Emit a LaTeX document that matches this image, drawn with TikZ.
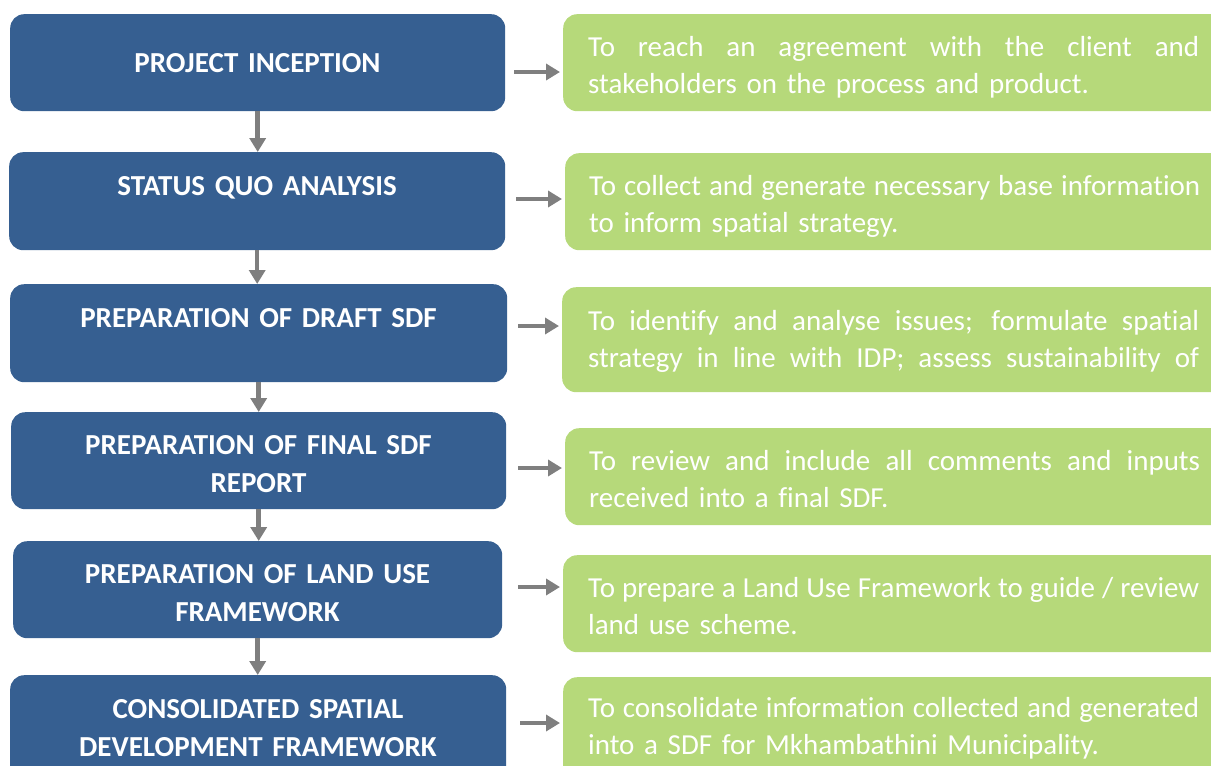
\documentclass[tikz,border=0pt]{standalone}
\usepackage{fontspec}
\setmainfont{Carlito}[Ligatures=NoCommon]
\usetikzlibrary{arrows.meta}
\definecolor{stageblue}{RGB}{54,95,145}
\definecolor{aimgreen}{RGB}{182,217,122}
\definecolor{linkgrey}{RGB}{127,127,127}
\newcommand{\fullline}[1]{\makebox[611pt][s]{\spaceskip=0.2em plus 1fil minus 0.1em\relax #1}}

\begin{document}
\begin{tikzpicture}[x=1pt,y=-1pt,
    stage/.style={fill=stageblue,rounded corners=14pt,anchor=north west,inner sep=0pt},
    aim/.style={fill=aimgreen,rounded corners=14pt,anchor=north west,inner sep=0pt,minimum width=700pt},
    stagetext/.style={text=white,font=\fontsize{29}{38}\selectfont\bfseries,align=center,text width=480pt,anchor=base,inner sep=0pt},
    aimtext/.style={text=white,font=\fontsize{29}{37.5}\selectfont,align=left,text width=611pt,anchor=base west,inner sep=0pt},
    link/.style={draw=linkgrey,line width=4.5pt,-{Triangle[length=14pt,width=16pt]}}]
    \useasboundingbox (0,0) rectangle (1211,766);
    \clip (0,0) rectangle (1211,766);
    % stages
    \node[stage,minimum width=495pt,minimum height=97pt] (s1) at (10,14) {};
    \node[stage,minimum width=496pt,minimum height=98pt] (s2) at (9,152) {};
    \node[stage,minimum width=497pt,minimum height=98pt] (s3) at (10,284) {};
    \node[stage,minimum width=495pt,minimum height=97pt] (s4) at (11,412) {};
    \node[stage,minimum width=489pt,minimum height=97pt] (s5) at (13,541) {};
    \node[stage,minimum width=496pt,minimum height=110pt] (s6) at (10,675) {};
    \node[stagetext] (t1) at (257.5,72) {PROJECT INCEPTION};
    \node[stagetext] (t2) at (257,195) {STATUS QUO ANALYSIS};
    \node[stagetext] (t3) at (258.5,327) {PREPARATION OF DRAFT SDF};
    \node[stagetext] (t4) at (258.5,454) {PREPARATION OF FINAL SDF\\REPORT};
    \node[stagetext] (t5) at (257.5,583) {PREPARATION OF LAND USE\\FRAMEWORK};
    \node[stagetext] (t6) at (258,718) {CONSOLIDATED SPATIAL\\DEVELOPMENT FRAMEWORK};
    % aims
    \node[aim,minimum height=97pt] (g1) at (563,14) {};
    \node[aim,minimum height=97pt] (g2) at (565,153) {};
    \node[aim,minimum height=105pt] (g3) at (562,287) {};
    \node[aim,minimum height=97pt] (g4) at (565,428) {};
    \node[aim,minimum height=97pt] (g5) at (563,555) {};
    \node[aim,minimum height=110pt] (g6) at (563,677) {};
    \node[aimtext] (d1) at (588,56) {\fullline{To reach an agreement with the client and}\\stakeholders on the process and product.};
    \node[aimtext] (d2) at (589,195) {\fullline{To collect and generate necessary base information}\\to inform spatial strategy.};
    \node[aimtext] (d3) at (588,330) {\fullline{To identify and analyse issues; formulate spatial}\\\fullline{strategy in line with IDP; assess sustainability of}};
    \node[aimtext] (d4) at (589,470) {\fullline{To review and include all comments and inputs}\\received into a final SDF.};
    \node[aimtext] (d5) at (588,597) {\fullline{To prepare a Land Use Framework to guide / review}\\land use scheme.};
    \node[aimtext] (d6) at (588,717) {\fullline{To consolidate information collected and generated}\\into a SDF for Mkhambathini Municipality.};
    % links
    \foreach \i/\j in {1/2,2/3,3/4,4/5,5/6}
        \draw[link] (s\i.south) -- (s\i.south |- s\j.north);
    \foreach \i/\x/\y in {1/514/72,2/516/199,3/518/326,4/518/468,5/518/587,6/520/723}{
        \coordinate (h\i) at (\x,\y);
        \draw[link,shorten >=3pt] (h\i) -- (h\i -| g\i.west);
    }
\end{tikzpicture}
\end{document}
